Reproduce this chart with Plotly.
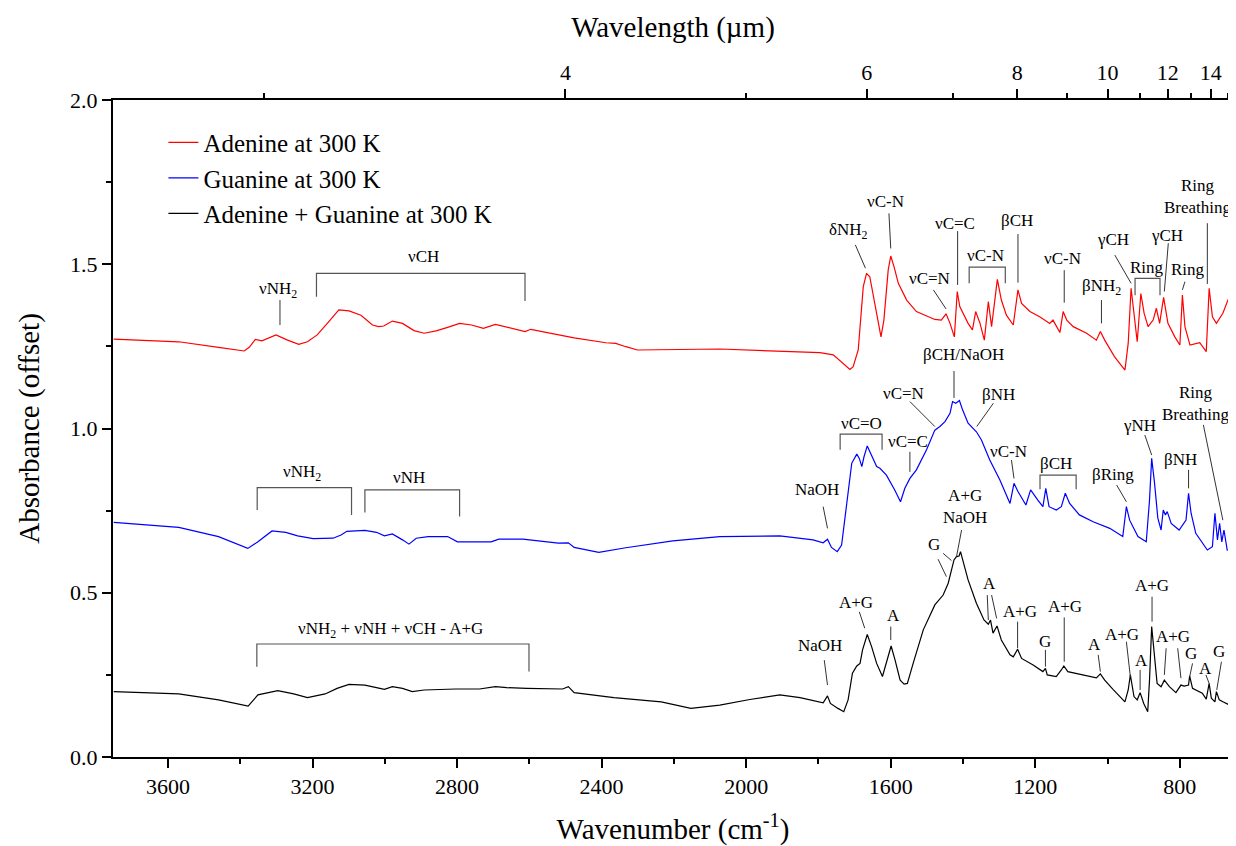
import plotly.graph_objects as go

# ---------------- data ----------------
adenine_wn = [3750, 3570, 3460, 3389, 3375, 3358, 3340, 3301, 3269, 3238, 3214, 3187, 3159, 3127, 3099,
              3066, 3034, 3017, 3003, 2979, 2951, 2919, 2891, 2858, 2826, 2793, 2760, 2727, 2694, 2662,
              2629, 2612, 2596, 2552, 2476, 2388, 2361, 2333, 2301, 2073, 1950, 1796, 1759, 1713, 1704,
              1690, 1676, 1667, 1658, 1644, 1627, 1619, 1607, 1600, 1591, 1579, 1556, 1529, 1505, 1478,
              1460, 1447, 1436, 1424, 1416, 1409, 1386, 1374, 1365, 1353, 1341, 1330, 1321, 1305, 1294,
              1280, 1261, 1248, 1238, 1215, 1188, 1160, 1151, 1132, 1123, 1113, 1095, 1058, 1031, 1020,
              1008, 981, 952, 943, 935, 927, 918, 908, 899, 888, 874, 865, 856, 845, 833,
              814, 800, 793, 786, 772, 745, 727, 719, 710, 699, 681, 667, 653]
adenine_abs = [1.272, 1.264, 1.247, 1.236, 1.247, 1.271, 1.267, 1.285, 1.269, 1.256, 1.264, 1.285, 1.320, 1.361, 1.358,
               1.345, 1.315, 1.310, 1.312, 1.327, 1.320, 1.298, 1.290, 1.297, 1.308, 1.320, 1.315, 1.305, 1.317, 1.308,
               1.300, 1.295, 1.302, 1.292, 1.276, 1.261, 1.259, 1.249, 1.239, 1.242, 1.238, 1.231, 1.224, 1.180, 1.188,
               1.239, 1.432, 1.472, 1.462, 1.381, 1.279, 1.330, 1.483, 1.525, 1.493, 1.442, 1.391, 1.356, 1.345, 1.332,
               1.330, 1.349, 1.320, 1.279, 1.417, 1.371, 1.320, 1.300, 1.356, 1.320, 1.269, 1.386, 1.310, 1.454, 1.391,
               1.345, 1.315, 1.422, 1.381, 1.356, 1.340, 1.320, 1.330, 1.292, 1.356, 1.330, 1.310, 1.290, 1.269, 1.295,
               1.269, 1.219, 1.178, 1.259, 1.427, 1.340, 1.264, 1.411, 1.351, 1.310, 1.330, 1.366, 1.320, 1.399, 1.320,
               1.279, 1.254, 1.406, 1.310, 1.254, 1.261, 1.234, 1.427, 1.340, 1.320, 1.351, 1.391, 1.411]

guanine_wn = [3750, 3570, 3460, 3379, 3351, 3312, 3274, 3241, 3198, 3143, 3121, 3105, 3055, 3023, 3001,
              2979, 2951, 2933, 2913, 2880, 2826, 2799, 2706, 2684, 2618, 2520, 2492, 2476, 2408, 2333,
              2203, 2073, 1907, 1815, 1787, 1775, 1764, 1748, 1736, 1722, 1708, 1694, 1687, 1680, 1674,
              1665, 1653, 1639, 1630, 1612, 1589, 1573, 1561, 1547, 1529, 1501, 1478, 1464, 1450, 1436,
              1429, 1420, 1410, 1401, 1386, 1363, 1349, 1326, 1298, 1270, 1259, 1248, 1226, 1213, 1193,
              1179, 1171, 1162, 1142, 1128, 1117, 1105, 1078, 1051, 1040, 994, 958, 948, 939, 916,
              893, 884, 878, 870, 861, 852, 846, 840, 835, 824, 802, 783, 776, 769, 756,
              724, 710, 703, 696, 690, 684, 678, 669, 655]
guanine_abs = [0.714, 0.699, 0.671, 0.635, 0.655, 0.688, 0.684, 0.673, 0.665, 0.666, 0.676, 0.687, 0.690, 0.684, 0.673,
               0.679, 0.661, 0.648, 0.666, 0.671, 0.671, 0.655, 0.655, 0.663, 0.663, 0.651, 0.652, 0.638, 0.623, 0.637,
               0.658, 0.671, 0.673, 0.661, 0.652, 0.663, 0.638, 0.625, 0.645, 0.762, 0.894, 0.922, 0.909, 0.884, 0.914,
               0.947, 0.919, 0.884, 0.879, 0.858, 0.813, 0.777, 0.818, 0.848, 0.874, 0.935, 0.995, 1.006, 1.021, 1.046,
               1.082, 1.077, 1.085, 1.056, 1.016, 0.990, 0.965, 0.904, 0.843, 0.772, 0.833, 0.808, 0.767, 0.813, 0.782,
               0.762, 0.818, 0.762, 0.752, 0.762, 0.803, 0.772, 0.737, 0.721, 0.716, 0.696, 0.671, 0.762, 0.721, 0.671,
               0.655, 0.782, 0.909, 0.833, 0.727, 0.691, 0.752, 0.737, 0.747, 0.711, 0.691, 0.721, 0.803, 0.742, 0.681,
               0.630, 0.640, 0.742, 0.661, 0.711, 0.655, 0.691, 0.630, 0.635]

mix_wn = [3750, 3570, 3460, 3378, 3351, 3296, 3252, 3214, 3165, 3132, 3099, 3055, 3023, 3001, 2979,
          2951, 2924, 2891, 2804, 2738, 2694, 2662, 2607, 2508, 2492, 2476, 2366, 2235, 2153, 2073,
          1990, 1907, 1851, 1787, 1775, 1767, 1746, 1730, 1718, 1706, 1694, 1685, 1678, 1665, 1653,
          1639, 1623, 1612, 1599, 1588, 1574, 1563, 1554, 1538, 1510, 1478, 1455, 1441, 1432, 1425,
          1418, 1411, 1407, 1401, 1386, 1363, 1342, 1330, 1324, 1317, 1306, 1294, 1270, 1261, 1249,
          1238, 1206, 1179, 1172, 1167, 1142, 1128, 1121, 1110, 1077, 1031, 1020, 1008, 985, 952,
          943, 937, 927, 918, 910, 900, 889, 884, 878, 871, 863, 852, 843, 829, 811,
          797, 788, 776, 773, 765, 738, 727, 719, 713, 703, 699, 691, 681, 662, 649]
mix_abs = [0.199, 0.192, 0.174, 0.155, 0.189, 0.202, 0.192, 0.181, 0.192, 0.209, 0.221, 0.219, 0.211, 0.206, 0.214,
           0.209, 0.199, 0.204, 0.207, 0.207, 0.214, 0.211, 0.209, 0.207, 0.214, 0.196, 0.181, 0.168, 0.148, 0.158,
           0.175, 0.189, 0.181, 0.165, 0.186, 0.163, 0.148, 0.138, 0.174, 0.255, 0.277, 0.285, 0.326, 0.373, 0.336,
           0.285, 0.245, 0.290, 0.338, 0.295, 0.234, 0.222, 0.224, 0.285, 0.387, 0.463, 0.493, 0.529, 0.569, 0.600,
           0.610, 0.612, 0.625, 0.600, 0.539, 0.468, 0.417, 0.404, 0.417, 0.377, 0.399, 0.356, 0.311, 0.305, 0.328,
           0.300, 0.280, 0.260, 0.270, 0.250, 0.245, 0.265, 0.277, 0.260, 0.252, 0.241, 0.253, 0.234, 0.206, 0.168,
           0.204, 0.250, 0.184, 0.174, 0.196, 0.163, 0.138, 0.234, 0.397, 0.305, 0.224, 0.214, 0.234, 0.214, 0.196,
           0.219, 0.216, 0.219, 0.247, 0.209, 0.194, 0.176, 0.224, 0.179, 0.168, 0.199, 0.174, 0.168, 0.158, 0.161]

series_names = ["Adenine at 300 K", "Guanine at 300 K", "Adenine + Guanine at 300 K"]
wavelength_major = [4, 6, 8, 10, 12, 14]
wavelength_minor = [3, 5, 7, 9, 11, 13, 15]

# band labels: (text, wavenumber, absorbance)
band_labels = [
    ("νNH<sub>2</sub>", 3296, 1.422), ("νCH", 2894, 1.525), ("δNH<sub>2</sub>", 1717, 1.602),
    ("νC-N", 1615, 1.690), ("νC=N", 1493, 1.457), ("νC=C", 1422, 1.624), ("νC-N", 1338, 1.528),
    ("βCH", 1252, 1.633), ("βCH/NaOH", 1400, 1.224), ("νC-N", 1124, 1.516), ("βNH<sub>2</sub>", 1017, 1.432),
    ("γCH", 985, 1.574), ("Ring", 890, 1.490), ("γCH", 836, 1.589), ("Ring", 778, 1.484),
    ("Ring<br>Breathing", 749, 1.705),
    ("νNH<sub>2</sub>", 3230, 0.866), ("νNH", 2932, 0.851), ("NaOH", 1805, 0.813), ("νC=O", 1681, 1.016),
    ("νC=C", 1551, 0.960), ("νC=N", 1565, 1.107), ("βNH", 1303, 1.102), ("νC-N", 1275, 0.929),
    ("βCH", 1142, 0.894), ("βRing", 985, 0.861), ("γNH", 911, 1.008), ("βNH", 797, 0.906),
    ("Ring<br>Breathing", 755, 1.075),
    ("νNH<sub>2</sub> + νNH + νCH - A+G", 2984, 0.387), ("NaOH", 1796, 0.338), ("A+G", 1696, 0.470),
    ("A", 1593, 0.432), ("G", 1480, 0.648), ("A+G<br>NaOH", 1395, 0.763), ("A", 1328, 0.529),
    ("A+G", 1243, 0.444), ("G", 1172, 0.351), ("A+G", 1118, 0.458), ("A", 1035, 0.341),
    ("A+G", 959, 0.374), ("A", 906, 0.295), ("A+G", 877, 0.521), ("A+G", 818, 0.368),
    ("G", 769, 0.314), ("A", 728, 0.270), ("G", 691, 0.321),
]

# pointer lines: (wn0, abs0, wn1, abs1)
pointers = [
    (3290, 1.391, 3290, 1.315), (1698, 1.559, 1670, 1.488), (1605, 1.655, 1600, 1.548),
    (1482, 1.422, 1447, 1.364), (1415, 1.601, 1415, 1.437), (1248, 1.592, 1248, 1.444),
    (1425, 1.175, 1425, 1.093), (1120, 1.482, 1120, 1.383), (1017, 1.391, 1017, 1.320),
    (980, 1.528, 935, 1.442), (832, 1.564, 843, 1.417), (786, 1.447, 793, 1.422),
    (724, 1.625, 724, 1.440),
    (1787, 0.762, 1775, 0.696), (1547, 0.929, 1547, 0.868), (1547, 1.082, 1478, 1.006),
    (1316, 1.077, 1362, 1.006), (1266, 0.904, 1259, 0.848), (975, 0.828, 948, 0.777),
    (897, 0.980, 878, 0.919), (776, 0.874, 776, 0.818), (735, 1.011, 681, 0.721),
    (1784, 0.295, 1775, 0.219), (1687, 0.442, 1672, 0.392), (1600, 0.397, 1600, 0.356),
    (1469, 0.602, 1446, 0.549), (1455, 0.620, 1432, 0.598), (1404, 0.691, 1418, 0.610),
    (1333, 0.493, 1330, 0.417), (1321, 0.493, 1307, 0.422), (1249, 0.412, 1249, 0.331),
    (1172, 0.326, 1172, 0.275), (1120, 0.425, 1120, 0.290), (1026, 0.311, 1020, 0.260),
    (948, 0.351, 937, 0.244), (910, 0.265, 910, 0.204), (877, 0.488, 877, 0.412),
    (838, 0.331, 843, 0.250), (806, 0.331, 797, 0.240), (765, 0.285, 773, 0.244),
    (728, 0.250, 719, 0.224), (685, 0.290, 698, 0.204),
]

# brackets: (wn_left, wn_right, abs_top, abs_left_leg_end, abs_right_leg_end)
brackets = [
    (3189, 2612, 1.472, 1.401, 1.388), (1383, 1283, 1.491, 1.442, 1.442), (924, 855, 1.457, 1.406, 1.406),
    (3353, 3092, 0.820, 0.752, 0.737), (3055, 2793, 0.813, 0.744, 0.732), (1740, 1624, 0.983, 0.935, 0.935),
    (1187, 1087, 0.858, 0.815, 0.815), (3354, 2601, 0.344, 0.275, 0.260),
]

# ---------------- figure ----------------
FONT = "Liberation Serif"
X_RANGE = [3752, 653]
AXIS_KW = dict(ticks="outside", ticklen=9, tickwidth=1.5, tickcolor="black", showline=True,
               linewidth=2, linecolor="black", showgrid=False, zeroline=False, automargin=False,
               tickfont=dict(family=FONT, size=22, color="black"))

fig = go.Figure()
for name, xs, ys, col in [(series_names[0], adenine_wn, adenine_abs, "#ff0000"),
                          (series_names[1], guanine_wn, guanine_abs, "#0000ff"),
                          (series_names[2], mix_wn, mix_abs, "#000000")]:
    fig.add_trace(go.Scatter(x=xs, y=ys, mode="lines", name=name,
                             line=dict(color=col, width=1.2), hoverinfo="skip"))
# invisible carrier trace so the top (wavelength) axis is drawn
fig.add_trace(go.Scatter(x=mix_wn, y=mix_abs, xaxis="x2", mode="lines", showlegend=False,
                         line=dict(width=0, color="rgba(0,0,0,0)"), hoverinfo="skip"))

shapes = []
for x0, y0, x1, y1 in pointers:
    shapes.append(dict(type="line", xref="x", yref="y", x0=x0, y0=y0, x1=x1, y1=y1,
                       line=dict(color="#333333", width=1)))
for xa, xb, yt, ya, yb in brackets:
    shapes.append(dict(type="path", xref="x", yref="y",
                       path=f"M {xa},{ya} L {xa},{yt} L {xb},{yt} L {xb},{yb}",
                       line=dict(color="#555555", width=1.2)))

annotations = [dict(text=t, x=x, y=y, xref="x", yref="y", showarrow=False, xanchor="center",
                    yanchor="middle", font=dict(family=FONT, size=17, color="black"))
               for t, x, y in band_labels]

# the page body adds an 8 px offset, so the figure is 8 px smaller than the window
fig.update_layout(
    width=1228, height=838,
    margin=dict(l=105, r=3, t=92, b=89),
    paper_bgcolor="white", plot_bgcolor="white",
    font=dict(family=FONT, size=22, color="black"),
    shapes=shapes, annotations=annotations,
    legend=dict(x=0.045, y=0.970, xanchor="left", yanchor="top", bgcolor="rgba(0,0,0,0)",
                font=dict(family=FONT, size=25, color="black"), tracegroupgap=0),
    xaxis=dict(range=X_RANGE, tickmode="linear", tick0=0, dtick=400,
               minor=dict(tickmode="linear", tick0=0, dtick=200, ticks="outside", ticklen=5,
                          tickwidth=1.5, tickcolor="black"),
               title=dict(text="Wavenumber (cm<sup>-1</sup>)", font=dict(family=FONT, size=29), standoff=23),
               **AXIS_KW),
    xaxis2=dict(overlaying="x", side="top", anchor="y", range=X_RANGE, tickmode="array",
                tickvals=[10000 / w for w in wavelength_major], ticktext=[str(w) for w in wavelength_major],
                minor=dict(tickmode="array", tickvals=[10000 / w for w in wavelength_minor], ticks="outside",
                           ticklen=5, tickwidth=1.5, tickcolor="black"),
                title=dict(text="Wavelength (µm)", font=dict(family=FONT, size=29), standoff=14),
                **AXIS_KW),
    yaxis=dict(range=[0, 2.0], tickmode="linear", tick0=0, dtick=0.5, tickformat=".1f", mirror=True,
               minor=dict(tickmode="linear", tick0=0, dtick=0.25, ticks="outside", ticklen=5,
                          tickwidth=1.5, tickcolor="black"),
               title=dict(text="Absorbance (offset)", font=dict(family=FONT, size=29), standoff=22),
               **AXIS_KW),
)

fig.write_html("out.html")
